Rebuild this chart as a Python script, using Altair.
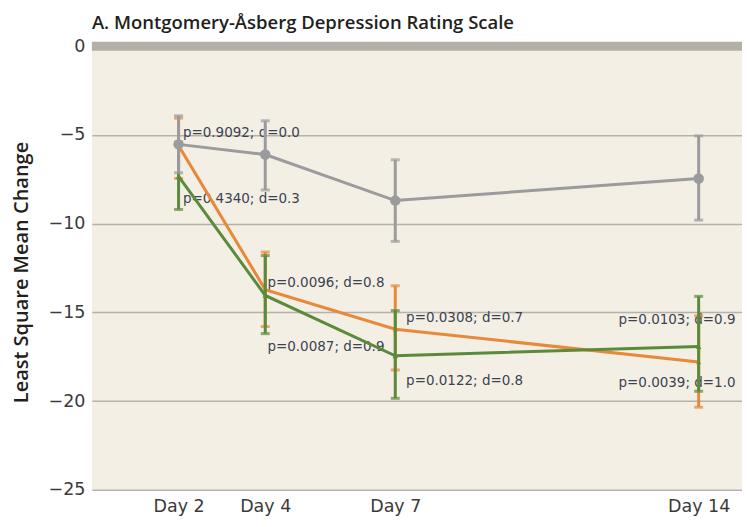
import altair as alt
import pandas as pd

days = [2, 4, 7, 14]
day_labels = ["Day 2", "Day 4", "Day 7", "Day 14"]

placebo_mean = [-5.53, -6.1, -8.7, -7.45]
placebo_lo = [-7.13, -8.1, -11.0, -9.8]
placebo_hi = [-3.92, -4.2, -6.4, -5.05]

orange_mean = [-5.6, -13.72, -15.95, -17.8]
orange_lo = [-7.45, -15.8, -18.25, -20.35]
orange_hi = [-4.05, -11.6, -13.5, -15.2]

green_mean = [-7.33, -14.05, -17.45, -16.93]
green_lo = [-9.2, -16.2, -19.85, -19.45]
green_hi = [-5.4, -11.8, -14.9, -14.1]

ann_text = ["p=0.9092; d=0.0", "p=0.4340; d=0.3", "p=0.0096; d=0.8", "p=0.0087; d=0.9",
            "p=0.0308; d=0.7", "p=0.0122; d=0.8", "p=0.0103; d=0.9", "p=0.0039; d=1.0"]
ann_day = [2.1, 2.1, 4.05, 4.05, 7.25, 7.25, 12.15, 12.15]
ann_val = [-4.9, -8.6, -13.35, -16.93, -15.33, -18.9, -15.43, -19.0]

y_ticks = [0, -5, -10, -15, -20, -25]

GRAY = "#9b9b9d"
ORANGE = "#e8893a"
GREEN = "#5b8a3b"

x_enc = alt.X("day:Q", scale=alt.Scale(domain=[0, 15], nice=False, zero=False),
              axis=alt.Axis(values=days, labelExpr="'Day ' + datum.value", grid=False,
                            domain=False, ticks=False, labelPadding=8, labelFontSize=17.5,
                            labelFont="DejaVu Sans", labelColor="#3a3a3a", title=None))
y_scale = alt.Scale(domain=[-25, 0], nice=False, zero=False)
y_axis = alt.Axis(values=y_ticks, grid=True, gridColor="#b5b1ab", gridWidth=1.5,
                  domain=False, ticks=False, labelPadding=7, labelFontSize=17.5,
                  labelFont="DejaVu Sans", labelColor="#3a3a3a",
                  title="Least Square Mean Change", titleFont="Open Sans", titleFontSize=20,
                  titleFontWeight=600, titleColor="#231f20", titleX=-70, titleY=226,
                  titleAngle=270, titleAlign="center", titleBaseline="middle")


def frame(mean, lo, hi):
    return pd.DataFrame({"day": days, "mean": mean, "lo": lo, "hi": hi})


def series_layers(df, color, shape, size):
    base = alt.Chart(df)
    line = base.mark_line(strokeWidth=3, color=color).encode(
        x=x_enc, y=alt.Y("mean:Q", scale=y_scale, axis=y_axis))
    rule = base.mark_rule(strokeWidth=3, color=color).encode(
        x="day:Q", y="lo:Q", y2="hi:Q")
    cap_lo = base.mark_tick(orient="horizontal", size=9, thickness=3, color=color).encode(
        x="day:Q", y="lo:Q")
    cap_hi = base.mark_tick(orient="horizontal", size=9, thickness=3, color=color).encode(
        x="day:Q", y="hi:Q")
    pts = base.mark_point(shape=shape, filled=True, size=size, color=color, opacity=1).encode(
        x="day:Q", y="mean:Q")
    return [line, rule, cap_lo, cap_hi, pts]


ann_df = pd.DataFrame({"day": ann_day, "val": ann_val, "text": ann_text})
ann = alt.Chart(ann_df).mark_text(align="left", baseline="middle", font="DejaVu Sans",
                                   fontSize=13.5, color="#3b4352").encode(
    x=x_enc, y=alt.Y("val:Q", scale=y_scale, axis=y_axis), text="text:N")

zero_df = pd.DataFrame({"y": [0]})
zero_line = alt.Chart(zero_df).mark_rule(strokeWidth=9, color="#b3afa9").encode(
    y=alt.Y("y:Q", scale=y_scale, axis=y_axis))

layers = [zero_line, ann]
layers += series_layers(frame(orange_mean, orange_lo, orange_hi), ORANGE, "triangle-up", 30)
layers += series_layers(frame(green_mean, green_lo, green_hi), GREEN, "triangle-up", 30)
layers += series_layers(frame(placebo_mean, placebo_lo, placebo_hi), GRAY, "circle", 110)

chart = alt.layer(*layers).properties(
    width=651, height=444,
    autosize=alt.AutoSizeParams(type="none"),
    padding={"left": 84, "top": 38, "right": 0, "bottom": 27},
    title=alt.Title("A. Montgomery-Åsberg Depression Rating Scale", anchor="start",
                    frame="group", font="Open Sans", fontSize=18.5, fontWeight=600,
                    color="#231f20", baseline="alphabetic", offset=16, dy=26),
).configure_view(fill="#f4efe4", stroke=None)

chart.save("out.html", embed_options={"renderer": "svg", "actions": False})
